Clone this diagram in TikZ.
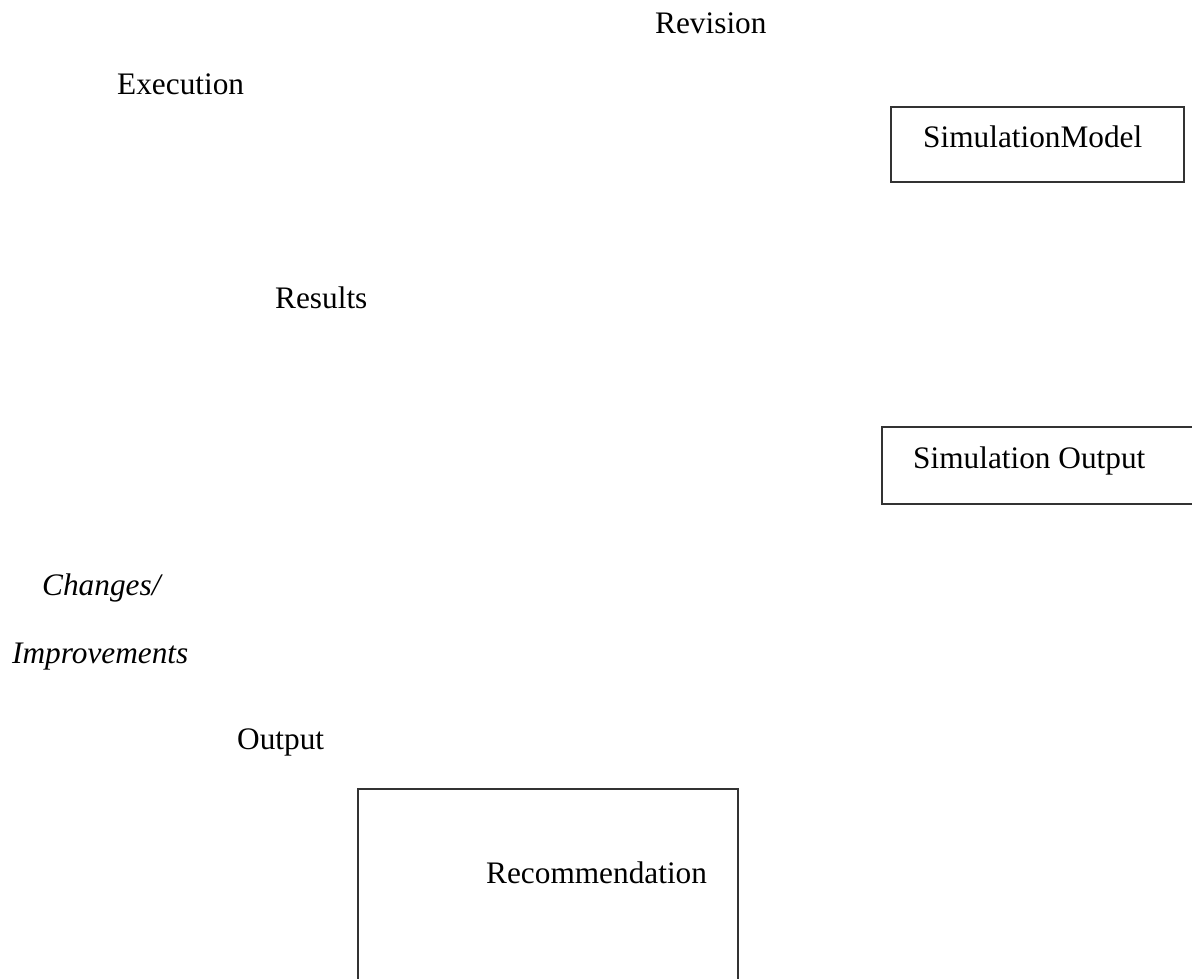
\documentclass[tikz,border=0pt]{standalone}
\usepackage{fontspec}
\setmainfont{Liberation Serif}
\begin{document}
\begin{tikzpicture}[x=1pt,y=-1pt,
  lbl/.style={anchor=base west,inner sep=0pt,font=\fontsize{31.3}{36}\selectfont},
  ilbl/.style={lbl,font=\fontsize{31.3}{36}\selectfont\itshape},
  frame/.style={draw=black!80,line width=1.2pt,inner sep=0pt}]
\useasboundingbox (0,0) rectangle (1192,979);
\clip (0,0) rectangle (1192,979);
% boxes
\draw[frame] (891,107) rectangle (1184,182);
\draw[frame] (882,427) rectangle (1200,504);
\draw[frame] (358,789) rectangle (738,990);
% labels
\node[lbl] (rev) at (655,34) {Revision};
\node[lbl] (exe) at (117,95) {Execution};
\node[lbl] (sim) at (923,148) {SimulationModel};
\node[lbl] (res) at (275,308) {Results};
\node[lbl] (sout) at (913,468) {Simulation Output};
\node[ilbl] (chg) at (42,595) {Changes/};
\node[ilbl] (imp) at (12,663) {Improvements};
\node[lbl] (out) at (237,749) {Output};
\node[lbl] (rec) at (486,883) {Recommendation};
\end{tikzpicture}
\end{document}
